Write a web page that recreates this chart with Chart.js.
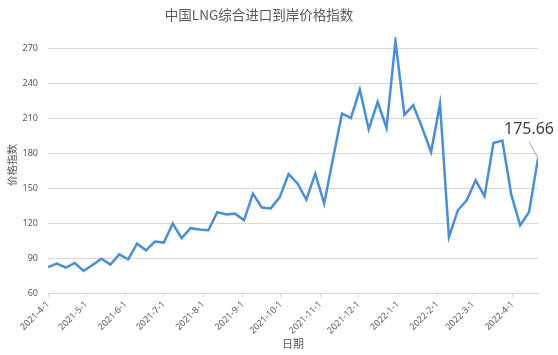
<!DOCTYPE html>
<html>
<head>
<meta charset="utf-8">
<script src="https://cdn.jsdelivr.net/npm/chart.js@4.4.1/dist/chart.umd.min.js"></script>
<style>
  html, body { margin: 0; padding: 0; background: #fff; }
</style>
</head>
<body>
<canvas id="lng" width="558" height="355"></canvas>
<script>
// weekly observations
const weekDates = [
    '2021-4-1', '2021-4-8', '2021-4-15', '2021-4-22', '2021-4-29',
    '2021-5-6', '2021-5-13', '2021-5-20', '2021-5-27',
    '2021-6-3', '2021-6-10', '2021-6-17', '2021-6-24',
    '2021-7-1', '2021-7-8', '2021-7-15', '2021-7-22', '2021-7-29',
    '2021-8-5', '2021-8-12', '2021-8-19', '2021-8-26',
    '2021-9-2', '2021-9-9', '2021-9-16', '2021-9-23', '2021-9-30',
    '2021-10-7', '2021-10-14', '2021-10-21', '2021-10-28',
    '2021-11-4', '2021-11-11', '2021-11-18', '2021-11-25',
    '2021-12-2', '2021-12-9', '2021-12-16', '2021-12-23', '2021-12-30',
    '2022-1-6', '2022-1-13', '2022-1-20', '2022-1-27',
    '2022-2-3', '2022-2-10', '2022-2-17', '2022-2-24',
    '2022-3-3', '2022-3-10', '2022-3-17', '2022-3-24', '2022-3-31',
    '2022-4-7', '2022-4-14', '2022-4-21'
];

const indexValues = [
    82.3, 85.2, 81.8, 85.8, 79.0,
    84.0, 89.5, 84.4, 93.2,
    88.9, 102.4, 96.7, 104.2,
    103.3, 119.6, 107.2, 115.7, 114.5,
    113.9, 129.4, 127.5, 128.2,
    122.5, 145.4, 133.4, 132.7, 142.2,
    162.3, 154.2, 140.3, 162.6,
    136.8, 176.0, 214.1, 210.4,
    234.8, 200.6, 224.1, 201.8, 276.5,
    213.3, 221.3, 202.0, 181.2,
    222.7, 108.1, 131.1, 139.7,
    156.8, 143.1, 188.9, 191.0, 144.5,
    118.2, 129.6, 175.66
];

// axis labels
const monthTicks = [
    '2021-4-1', '2021-5-1', '2021-6-1', '2021-7-1', '2021-8-1', '2021-9-1', '2021-10-1',
    '2021-11-1', '2021-12-1', '2022-1-1', '2022-2-1', '2022-3-1', '2022-4-1'
];
const yTicks = [60, 90, 120, 150, 180, 210, 240, 270];

const chartTitle = '中国LNG综合进口到岸价格指数';
const xTitle = '日期';
const yTitle = '价格指数';

// days since the first observation
const toUTC = s => {
    const [y, m, d] = s.split('-').map(Number);
    return Date.UTC(y, m - 1, d);
};
const startUTC = toUTC(weekDates[0]);
const dayOf = s => Math.round((toUTC(s) - startUTC) / 86400000);

const tickDays = monthTicks.map(dayOf);
const points = weekDates.map((d, i) => ({ x: dayOf(d), y: indexValues[i] }));

const cjkFont = '"Noto Sans CJK SC", "Noto Sans", sans-serif';
const gridColor = '#d9d9d9';
const textColor = '#595959';

// title drawn by hand so it can sit off-centre like the original
const titlePlugin = {
    id: 'plainTitle',
    afterDraw(chart) {
        const ctx = chart.ctx;
        ctx.save();
        ctx.font = '13.5px ' + cjkFont;
        ctx.fillStyle = textColor;
        ctx.textAlign = 'center';
        ctx.textBaseline = 'middle';
        ctx.fillText(chartTitle, 259, 15);
        ctx.restore();
    }
};

// label for the latest value with a short leader line
const lastLabelPlugin = {
    id: 'lastLabel',
    afterDatasetsDraw(chart) {
        const meta = chart.getDatasetMeta(0);
        const pt = meta.data[meta.data.length - 1];
        if (!pt) return;
        const ctx = chart.ctx;
        ctx.save();
        ctx.strokeStyle = '#a6a6a6';
        ctx.lineWidth = 1;
        ctx.beginPath();
        ctx.moveTo(pt.x - 9, pt.y - 17);
        ctx.lineTo(pt.x, pt.y);
        ctx.stroke();
        ctx.font = '16px "Noto Sans", sans-serif';
        ctx.fillStyle = '#404040';
        ctx.textAlign = 'center';
        ctx.textBaseline = 'middle';
        ctx.fillText(indexValues[indexValues.length - 1].toFixed(2), pt.x - 9, pt.y - 29);
        ctx.restore();
    }
};

const chartconfig = {
    type: 'line',
    data: {
        datasets: [{
            label: chartTitle,
            data: points,
            borderColor: '#4a8fd6',
            borderWidth: 2.5,
            pointRadius: 0,
            tension: 0,
            fill: false
        }]
    },
    options: {
        responsive: false,
        animation: false,
        layout: {
            padding: { top: 37, right: 20, left: 0, bottom: 0 }
        },
        plugins: {
            legend: { display: false },
            tooltip: { enabled: false },
            title: { display: false }
        },
        scales: {
            x: {
                type: 'linear',
                min: dayOf(weekDates[0]),
                max: dayOf(weekDates[weekDates.length - 1]),
                afterBuildTicks: scale => {
                    scale.ticks = tickDays.map(v => ({ value: v }));
                },
                afterFit: scale => {
                    scale.height = 62;
                },
                grid: {
                    drawOnChartArea: false,
                    drawTicks: true,
                    tickLength: 4,
                    color: gridColor
                },
                border: { display: true, color: gridColor },
                ticks: {
                    autoSkip: false,
                    minRotation: 45,
                    maxRotation: 45,
                    padding: 2,
                    color: textColor,
                    font: { size: 9, family: '"Noto Sans", sans-serif' },
                    callback: value => {
                        const i = tickDays.indexOf(value);
                        return i >= 0 ? monthTicks[i] : '';
                    }
                },
                title: {
                    display: true,
                    text: xTitle,
                    color: textColor,
                    font: { size: 11, family: cjkFont },
                    padding: { top: 0, bottom: 5 }
                }
            },
            y: {
                min: 60,
                max: 280,
                afterBuildTicks: scale => {
                    scale.ticks = yTicks.map(v => ({ value: v }));
                },
                afterFit: scale => {
                    scale.width = 48;
                },
                grid: {
                    color: gridColor,
                    lineWidth: 1,
                    drawTicks: false
                },
                border: { display: false },
                ticks: {
                    padding: 10,
                    color: textColor,
                    font: { size: 9, family: '"Noto Sans", sans-serif' }
                },
                title: {
                    display: true,
                    text: yTitle,
                    color: textColor,
                    font: { size: 10.5, family: cjkFont },
                    padding: { top: 6, bottom: 0 }
                }
            }
        }
    },
    plugins: [titlePlugin, lastLabelPlugin]
};

const canvas = document.getElementById('lng');
if (canvas) {
    new Chart(canvas, chartconfig);
} else {
    console.error('Canvas element with ID "lng" not found');
}
</script>
</body>
</html>
